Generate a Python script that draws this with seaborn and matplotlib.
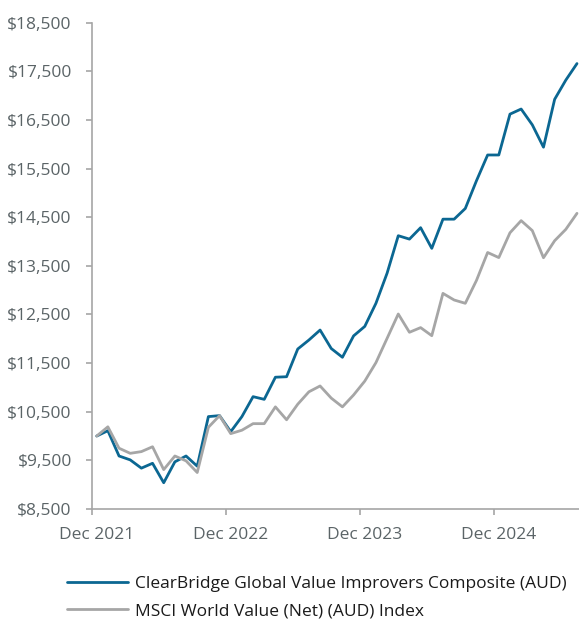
import numpy as np
import pandas as pd
import matplotlib.pyplot as plt
import seaborn as sns

# growth of $10,000, monthly from Dec 2021
months = list(range(44))
clearbridge = [10000, 10110, 9590, 9510, 9340, 9440, 9040, 9470, 9590, 9380,
               10400, 10420, 10090, 10400, 10810, 10755, 11210, 11220, 11790, 11975,
               12180, 11800, 11620, 12060, 12255, 12730, 13350, 14120, 14050, 14285,
               13860, 14460, 14460, 14680, 15250, 15780, 15780, 16620, 16725, 16400,
               15940, 16925, 17320, 17660]
msci = [10000, 10190, 9750, 9645, 9680, 9780, 9310, 9590, 9490, 9250,
        10180, 10420, 10050, 10120, 10255, 10255, 10600, 10335, 10655, 10910,
        11030, 10780, 10600, 10845, 11130, 11510, 12010, 12510, 12134, 12230,
        12064, 12934, 12798, 12730, 13200, 13775, 13670, 14180, 14430, 14225,
        13667, 14017, 14251, 14580]
series_names = ['ClearBridge Global Value Improvers Composite (AUD)',
                'MSCI World Value (Net) (AUD) Index']
x_label_pos = [0, 12, 24, 36]
x_labels = ['Dec 2021', 'Dec 2022', 'Dec 2023', 'Dec 2024']
y_ticks = list(range(8500, 18501, 1000))

df = pd.DataFrame({
    'month': months * 2,
    'value': clearbridge + msci,
    'series': [series_names[0]] * len(months) + [series_names[1]] * len(months),
})

sns.set_style('white')
plt.rcParams['font.family'] = ['Open Sans', 'DejaVu Sans']

blue = '#0B6792'
grey = '#A6A6A6'
text_col = '#5B6467'
axis_col = '#A6A6A6'

fig = plt.figure(figsize=(5.79, 6.24), dpi=100)
ax = fig.add_axes([0.1589, 0.1843, 0.8411, 0.7793])

sns.lineplot(data=df, x='month', y='value', hue='series', palette=[blue, grey],
             linewidth=2, ax=ax)

ax.set_xlim(-0.42, 43.18)
ax.set_ylim(8500, 18500)
ax.set_xlabel('')
ax.set_ylabel('')

ax.set_yticks(y_ticks)
ax.set_yticklabels([f'${v:,.0f}' for v in y_ticks])

# tick marks sit just left of the month points, labels are centred on them
ax.set_xticks([p - 0.42 for p in x_label_pos])
ax.set_xticklabels([])
ax.set_xticks(x_label_pos, minor=True)
ax.set_xticklabels(x_labels, minor=True)

ax.tick_params(axis='y', which='major', direction='out', length=4.5, width=1.2,
               color=axis_col, labelsize=12.5, labelcolor=text_col, pad=10, left=True)
ax.tick_params(axis='x', which='major', direction='out', length=4.5, width=1.2,
               color=axis_col, bottom=True)
ax.tick_params(axis='x', which='minor', length=0, labelsize=12.5,
               labelcolor=text_col, pad=13)

sns.despine(ax=ax)
for side in ['left', 'bottom']:
    ax.spines[side].set_color(axis_col)
    ax.spines[side].set_linewidth(1.2)

sns.move_legend(ax, loc='upper left', bbox_to_anchor=(-0.0513, -0.138), title=None,
                frameon=False, fontsize=12.5, handlelength=3.5, handletextpad=0.4,
                labelspacing=0.62, borderpad=0, borderaxespad=0)
for t in ax.get_legend().get_texts():
    t.set_color('#1a1a1a')

fig.savefig('out.png', dpi=100)
